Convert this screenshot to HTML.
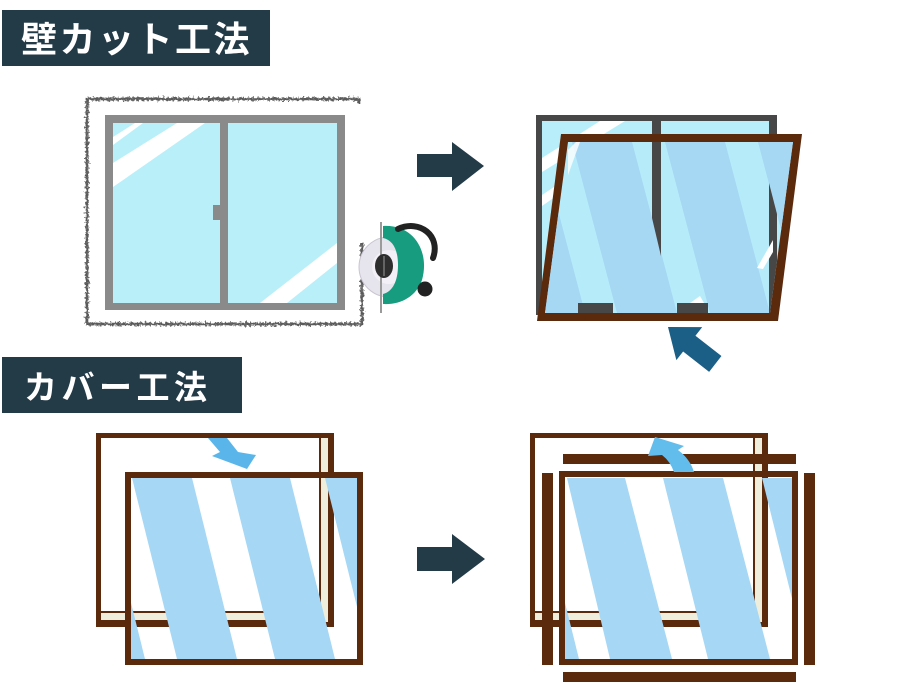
<!DOCTYPE html>
<html><head><meta charset="utf-8">
<style>
html,body{margin:0;padding:0;background:#fff;}
body{width:900px;height:693px;overflow:hidden;}
svg{display:block;}
.t{font-family:"Liberation Sans","Noto Sans CJK JP",sans-serif;font-weight:bold;fill:#fff;}
</style></head>
<body>
<svg width="900" height="693" viewBox="0 0 900 693" xmlns="http://www.w3.org/2000/svg">
<defs>
  <filter id="rough" x="-5%" y="-5%" width="110%" height="110%">
    <feTurbulence type="fractalNoise" baseFrequency="0.35" numOctaves="2" seed="4"/>
    <feDisplacementMap in="SourceGraphic" scale="4" xChannelSelector="R" yChannelSelector="G"/>
  </filter>
  <clipPath id="trGlass"><polygon points="568,142 793,142 770,313 545,313"/></clipPath>
  <clipPath id="blGlass"><rect x="131" y="478" width="226" height="181"/></clipPath>
  <clipPath id="brGlass"><rect x="565" y="477" width="227" height="182"/></clipPath>
</defs>

<!-- Title 1 -->
<rect x="2" y="10" width="268" height="56" fill="#233a47"/>
<text class="t" x="21" y="52" font-size="36" letter-spacing="2.5">壁カット工法</text>

<!-- Title 2 -->
<rect x="2" y="357" width="240" height="56" fill="#233a47"/>
<text class="t" x="24" y="399" font-size="33" letter-spacing="4.5">カバー工法</text>

<!-- ===== Top-left: wall-cut window ===== -->
<path d="M359,103 L359,99 L87,99 L87,324 L362,324 L362,243" fill="none" stroke="#5a5a5a" stroke-width="2.6" filter="url(#rough)"/>
<path d="M359,99 L87,99 L87,324 L362,324 L362,243" fill="none" stroke="#6a6a6a" stroke-width="5" stroke-dasharray="1 4" filter="url(#rough)"/>
<!-- frame -->
<rect x="105" y="115" width="240" height="195" fill="#8a8a8a"/>
<rect x="113" y="123" width="107" height="180" fill="#b9eff9"/>
<rect x="228" y="123" width="109" height="180" fill="#b9eff9"/>
<!-- reflections -->
<polygon points="113,137 135,123 143,123 113,145" fill="#fff"/>
<polygon points="113,163 177,123 205,123 113,187" fill="#fff"/>
<polygon points="260,303 287,303 337,263 337,243" fill="#fff"/>
<!-- handle -->
<rect x="213" y="205" width="9" height="15" fill="#8a8a8a"/>

<!-- saw -->
<circle cx="389" cy="267" r="30" fill="#e6e4ec" stroke="#c9c5d2" stroke-width="1"/>
<circle cx="389" cy="267" r="17" fill="#f3f1f7"/>
<path d="M383,226 C414,224 430,252 422,280 C416,297 400,305 383,304 L383,294 C392,292 398,282 398,265 C398,250 393,240 383,238 Z" fill="#179c7f"/>
<path d="M398,229 C420,219 441,236 433,258" fill="none" stroke="#222" stroke-width="6" stroke-linecap="round"/>
<circle cx="425" cy="289" r="7.5" fill="#222"/>
<line x1="381" y1="222" x2="381" y2="313" stroke="#9a9a9a" stroke-width="2"/>
<ellipse cx="384" cy="266" rx="9" ry="12" fill="#2e2e2e"/>
<line x1="384" y1="256" x2="384" y2="276" stroke="#777" stroke-width="1.5"/>

<!-- arrow top -->
<polygon points="417,154 452,154 452,142 484,166 452,191 452,177 417,177" fill="#233a47"/>

<!-- ===== Top-right ===== -->
<rect x="536" y="115" width="241" height="200" fill="#474747"/>
<rect x="542" y="121" width="227" height="192" fill="#b8eef9"/>
<rect x="652" y="115" width="9" height="198" fill="#474747"/>
<polygon points="542,158 600,121 625,121 542,172" fill="#fff"/>
<polygon points="542,195 575,173 575,183 542,206" fill="#fff"/>
<!-- brown frame -->
<polygon points="561,134 802,134 778,321 537,321" fill="#5b2a0d"/>
<polygon points="568,142 793,142 770,313 545,313" fill="#b6ecfa"/>
<g clip-path="url(#trGlass)">
  <polygon points="500,142 540,142 585,313 545,313" fill="#a6d7f3"/>
  <polygon points="572,142 632,142 677,313 617,313" fill="#a6d7f3"/>
  <polygon points="665,142 725,142 770,313 710,313" fill="#a6d7f3"/>
  <polygon points="758,142 818,142 863,313 803,313" fill="#a6d7f3"/>
  <polygon points="652,142 661,142 661,256 652,218" fill="#474747"/>
  <polygon points="769,183 777,214 777,313 769,313" fill="#474747"/>
  <polygon points="757,268 773,240 773,252 763,269" fill="#fff"/>
  <polygon points="568,150 576,142 580,142 568,175" fill="#fff" opacity="0.8"/>
  <rect x="578" y="303" width="35" height="10" fill="#474747"/>
  <rect x="677" y="303" width="31" height="10" fill="#474747"/>
  <polygon points="690,303 700,296 704,303" fill="#fff"/>
</g>
<!-- blue arrow -->
<g transform="translate(668,327) rotate(38)">
  <polygon points="0,0 27,-21 27,-10 60,-10 60,10 27,10 27,21" fill="#1b5e86"/>
</g>

<!-- ===== Bottom-left ===== -->
<rect x="96" y="433" width="238" height="194" fill="#5b2a0d"/>
<rect x="101" y="438" width="227" height="184" fill="#fff"/>
<rect x="319" y="438" width="9" height="184" fill="#5b2a0d"/>
<rect x="321" y="438" width="7" height="184" fill="#efeedc"/>
<rect x="101" y="611" width="227" height="11" fill="#5b2a0d"/>
<rect x="101" y="613" width="227" height="7" fill="#efeedc"/>
<rect x="321" y="611" width="7" height="11" fill="#efeedc"/>
<!-- front frame -->
<g clip-path="url(#blGlass)">
  <polygon points="40,478 100,478 145,659 85,659" fill="#a6d7f4"/>
  <polygon points="132,478 192,478 237,659 177,659" fill="#a6d7f4"/>
  <polygon points="230,478 290,478 335,659 275,659" fill="#a6d7f4"/>
  <polygon points="325,478 385,478 430,659 370,659" fill="#a6d7f4"/>
</g>
<rect x="128" y="475" width="232" height="187" fill="none" stroke="#5b2a0d" stroke-width="6"/>
<!-- small arrow -->
<polygon points="208,438 227,438 238,452 256,455 247,469 212,456 220,452" fill="#5ab6ea"/>

<!-- arrow bottom -->
<polygon points="417,547 452,547 452,534 485,559 452,584 452,571 417,571" fill="#233a47"/>

<!-- ===== Bottom-right ===== -->
<rect x="530" y="433" width="238" height="194" fill="#5b2a0d"/>
<rect x="535" y="438" width="227" height="184" fill="#fff"/>
<rect x="753" y="438" width="9" height="184" fill="#5b2a0d"/>
<rect x="755" y="438" width="7" height="184" fill="#efeedc"/>
<rect x="535" y="611" width="227" height="11" fill="#5b2a0d"/>
<rect x="535" y="613" width="227" height="7" fill="#efeedc"/>
<rect x="755" y="611" width="7" height="11" fill="#efeedc"/>
<g clip-path="url(#brGlass)">
  <polygon points="474,478 534,478 579,659 519,659" fill="#a6d7f4"/>
  <polygon points="567,478 625,478 672,659 610,659" fill="#a6d7f4"/>
  <polygon points="663,478 723,478 770,659 708,659" fill="#a6d7f4"/>
  <polygon points="762,478 822,478 867,659 807,659" fill="#a6d7f4"/>
</g>
<rect x="562" y="474" width="233" height="188" fill="none" stroke="#5b2a0d" stroke-width="6"/>
<rect x="563" y="454" width="233" height="10" fill="#5b2a0d"/>
<rect x="542" y="473" width="11" height="192" fill="#5b2a0d"/>
<rect x="804" y="473" width="11" height="192" fill="#5b2a0d"/>
<rect x="563" y="672" width="233" height="10" fill="#5b2a0d"/>
<!-- curved arrow -->
<path d="M655,437 L684,446 L678,450 Q690,459 694,472 L674,472 Q670,461 662,455 L648,456 Z" fill="#62bdec"/>
</svg>
</body></html>
